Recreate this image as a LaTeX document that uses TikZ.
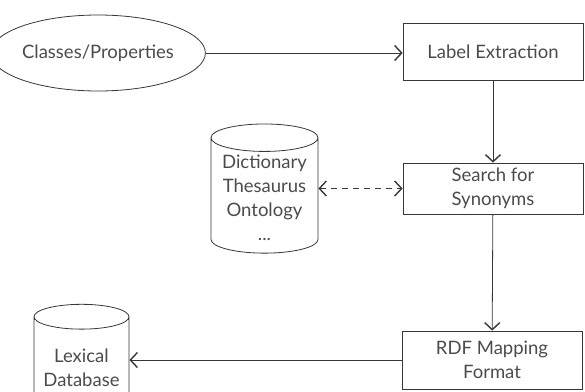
\documentclass[tikz,border=0pt]{standalone}
\usepackage{fontspec}
\setmainfont{Lato}
\usepackage{tikz}
\usetikzlibrary{arrows.meta,shapes.geometric}
\usetikzlibrary{positioning}
\definecolor{inkgray}{RGB}{55,55,55}
\definecolor{textgray}{RGB}{75,75,75}
\tikzset{
    proc/.style={
           rectangle,
           draw=inkgray,
           minimum width=180pt,
           align=center,
           text centered,
           },
    store/.style={
           cylinder,
           shape border rotate=90,
           draw=inkgray,
           aspect=0.3,
           align=center,
           },
}

\begin{document}
\begin{tikzpicture}[x=1pt,y=-1pt,->,>={Straight Barb[length=7pt,width=15pt,line width=1.4pt]},
  line width=0.8pt,draw=inkgray,text=textgray,font=\fontsize{18.5}{24}\selectfont]
 \useasboundingbox (0,0) rectangle (585,391);

 \node[ellipse,draw=inkgray,minimum width=181pt,minimum height=76pt,inner sep=0pt]
   (CLASSES) at (98,53) {Classes/Properties};

 \node[proc,minimum height=57pt] (LABEL) at (493,51.5) {Label Extraction};

 \node[proc,minimum height=51pt] (SEARCH) at (493,188.5) {Search for\\Synonyms};

 \node[store,minimum width=107pt,minimum height=120pt] (DICT) at (264.5,198)
   {Dictionary\\Thesaurus\\Ontology\\...};

 \node[proc,minimum height=58pt] (RDF) at (492,360) {RDF Mapping\\Format};

 \node[store,minimum width=95pt,minimum height=110pt] (LEXDB) at (81.5,368)
   {Lexical\\Database};

 \draw (CLASSES) -- (CLASSES -| LABEL.west);
 \draw (LABEL) -- (SEARCH);
 \draw[<->,dash pattern=on 6pt off 5pt] (DICT.east |- SEARCH.west) -- (SEARCH.west);
 \draw (SEARCH) -- (RDF);
 \draw (RDF.west) -- (RDF.west -| LEXDB.east);
\end{tikzpicture}
\end{document}
